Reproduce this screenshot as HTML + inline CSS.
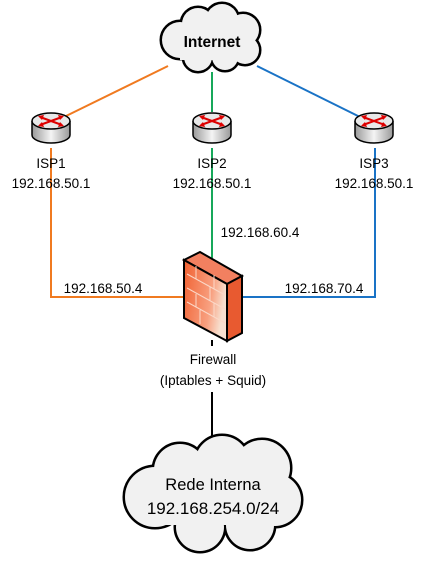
<!DOCTYPE html>
<html><head><meta charset="utf-8"><style>
html,body{margin:0;padding:0;background:#fff;}
svg{display:block;}
text{font-family:"Liberation Sans",sans-serif;}
</style></head><body>
<svg width="426" height="566" viewBox="0 0 426 566" xmlns="http://www.w3.org/2000/svg">
<defs>
<linearGradient id="rg" x1="0" y1="0" x2="1" y2="0"><stop offset="0" stop-color="#999"/><stop offset="0.5" stop-color="#f4f4f4"/><stop offset="1" stop-color="#999"/></linearGradient>
<linearGradient id="fw" x1="0" y1="0" x2="1" y2="0.3"><stop offset="0" stop-color="#f06030"/><stop offset="0.7" stop-color="#f8a080"/><stop offset="1" stop-color="#f7e0d0"/></linearGradient>
<g id="router">
<path d="M-19,-6 V8 A19,8 0 0 0 19,8 V-6" fill="url(#rg)" stroke="#000" stroke-width="1.5"/>
<ellipse cx="0" cy="-6" rx="19" ry="8" fill="#e8e8e8" stroke="#000" stroke-width="1.5"/>
<g stroke="#d00" stroke-width="2"><line x1="-11" y1="-10" x2="11" y2="-2"/><line x1="-11" y1="-2" x2="11" y2="-10"/></g>
<g fill="#d00"><polygon points="-13,-11 -7,-12 -9,-7"/><polygon points="13,-1 7,0 9,-5"/><polygon points="-13,-1 -7,0 -9,-5"/><polygon points="13,-11 7,-12 9,-7"/></g>
</g>
</defs>
<g fill="none" stroke-width="2">
<line x1="168" y1="66" x2="64" y2="117" stroke="#f07a20"/>
<polyline points="51,148 51,297 186,297" stroke="#f07a20"/>
<line x1="212" y1="72" x2="212" y2="112" stroke="#16a85a"/>
<line x1="212" y1="148" x2="212" y2="258" stroke="#16a85a"/>
<line x1="257" y1="66" x2="360" y2="117" stroke="#1a73c6"/>
<polyline points="375,148 375,297 240,297" stroke="#1a73c6"/>
<line x1="212" y1="340" x2="212" y2="346" stroke="#000"/>
<line x1="212" y1="392" x2="212" y2="442" stroke="#000"/>
</g>
<g stroke="#000" stroke-width="5">
<circle cx="180" cy="40" r="18"/><circle cx="198" cy="24" r="16"/><circle cx="222" cy="20" r="16"/><circle cx="243" cy="30" r="16"/><circle cx="245" cy="50" r="14"/><circle cx="225" cy="57" r="13"/><circle cx="198" cy="57" r="14"/>
</g>
<g fill="#f1f1f1">
<circle cx="180" cy="40" r="18"/><circle cx="198" cy="24" r="16"/><circle cx="222" cy="20" r="16"/><circle cx="243" cy="30" r="16"/><circle cx="245" cy="50" r="14"/><circle cx="225" cy="57" r="13"/><circle cx="198" cy="57" r="14"/><rect x="180" y="28" width="65" height="32"/>
</g>
<text x="212" y="47" font-size="15.5" font-weight="bold" text-anchor="middle">Internet</text>
<g stroke="#000" stroke-width="5">
<circle cx="155" cy="497" r="30"/><circle cx="180" cy="470" r="26"/><circle cx="222" cy="463" r="27"/><circle cx="262" cy="468" r="28"/><circle cx="275" cy="500" r="26"/><circle cx="250" cy="525" r="24"/><circle cx="200" cy="527" r="24"/>
</g>
<g fill="#f1f1f1">
<circle cx="155" cy="497" r="30"/><circle cx="180" cy="470" r="26"/><circle cx="222" cy="463" r="27"/><circle cx="262" cy="468" r="28"/><circle cx="275" cy="500" r="26"/><circle cx="250" cy="525" r="24"/><circle cx="200" cy="527" r="24"/><rect x="155" y="470" width="120" height="55"/>
</g>
<text x="213" y="490" font-size="16.5" text-anchor="middle">Rede Interna</text>
<text x="213" y="514" font-size="17" text-anchor="middle">192.168.254.0/24</text>
<use href="#router" x="51" y="127"/>
<use href="#router" x="212" y="127"/>
<use href="#router" x="374" y="127"/>
<g font-size="13.5" text-anchor="middle">
<text x="51" y="168">ISP1</text><text x="51" y="188">192.168.50.1</text>
<text x="212" y="168">ISP2</text><text x="212" y="188">192.168.50.1</text>
<text x="374" y="168">ISP3</text><text x="374" y="188">192.168.50.1</text>
<text x="260" y="237">192.168.60.4</text>
<text x="103" y="293">192.168.50.4</text>
<text x="324" y="293">192.168.70.4</text>
<text x="213" y="364">Firewall</text>
<text x="213" y="385">(Iptables + Squid)</text>
</g>
<polygon points="184,260 200,252 242,276 227,284" fill="#f28060" stroke="#000" stroke-width="2"/>
<polygon points="227,284 242,276 242,333 227,341" fill="#e85a30" stroke="#000" stroke-width="2"/>
<polygon points="184,260 227,284 227,341 184,318" fill="url(#fw)" stroke="#000" stroke-width="2"/>
<g stroke="#fbd8c8" stroke-width="1" fill="none">
<line x1="187" y1="274" x2="225" y2="295"/><line x1="187" y1="288" x2="225" y2="309"/><line x1="187" y1="302" x2="225" y2="323"/>
<line x1="196" y1="266" x2="196" y2="279"/><line x1="210" y1="287" x2="210" y2="301"/><line x1="196" y1="294" x2="196" y2="307"/><line x1="214" y1="275" x2="214" y2="289"/><line x1="214" y1="303" x2="214" y2="317"/><line x1="200" y1="310" x2="200" y2="324"/>
</g>
</svg>
</body></html>
